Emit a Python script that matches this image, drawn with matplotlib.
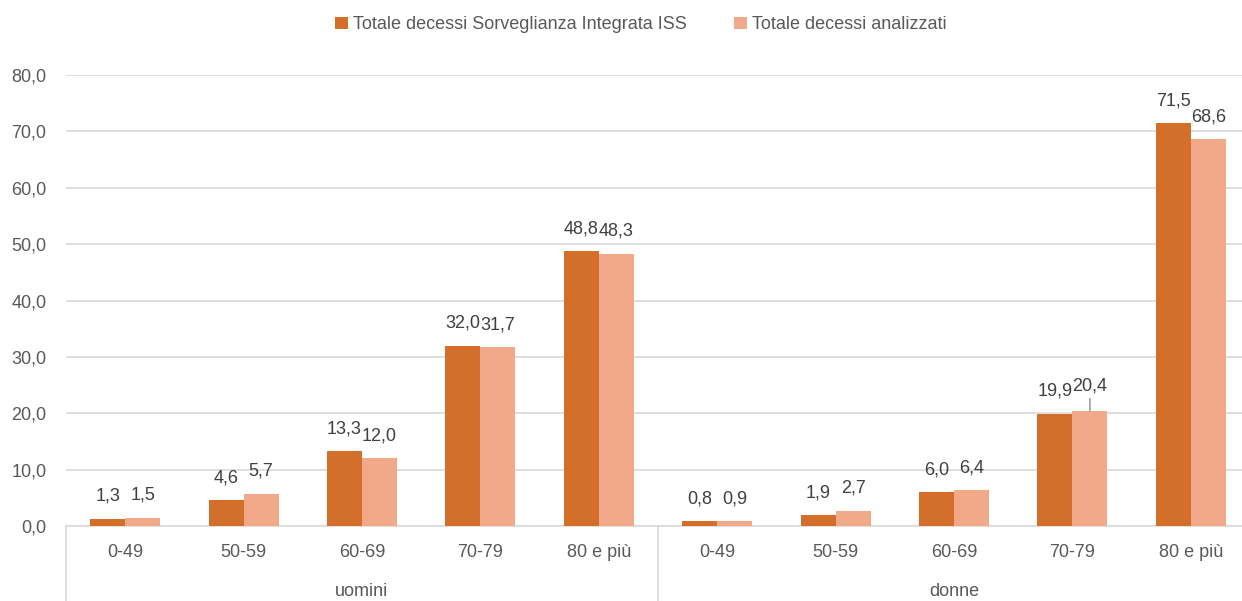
import numpy as np
import matplotlib.pyplot as plt

plt.rcParams['font.family'] = ['Liberation Sans', 'DejaVu Sans']

age_groups = ["0-49", "50-59", "60-69", "70-79", "80 e più"]
sexes = ["uomini", "donne"]
series_names = ["Totale decessi Sorveglianza Integrata ISS", "Totale decessi analizzati"]
iss_values = [1.3, 4.6, 13.3, 32.0, 48.8, 0.8, 1.9, 6.0, 19.9, 71.5]
analyzed_values = [1.5, 5.7, 12.0, 31.7, 48.3, 0.9, 2.7, 6.4, 20.4, 68.6]

dark = "#D36F2B"
light = "#F2A98A"
text_col = "#595959"
grid_col = "#D9D9D9"
fs = 13

fig = plt.figure(figsize=(12.42, 6.01), dpi=100)
ax = fig.add_axes([66 / 1242, 1 - 526 / 601, 1184 / 1242, 451 / 601])

x = np.arange(len(iss_values))
w = 0.296
b1 = ax.bar(x - w / 2, iss_values, w, color=dark, label=series_names[0], zorder=3)
b2 = ax.bar(x + w / 2, analyzed_values, w, color=light, label=series_names[1], zorder=3)

def fmt(v):
    return f"{v:.1f}".replace(".", ",")

for bars, vals in [(b1, iss_values), (b2, analyzed_values)]:
    for rect, v in zip(bars, vals):
        cx = rect.get_x() + rect.get_width() / 2
        if v == 20.4:
            ax.annotate(fmt(v), xy=(cx, v), xytext=(0, 12), textcoords="offset points",
                        ha="center", va="bottom", fontsize=fs, color="#404040",
                        arrowprops=dict(arrowstyle="-", color="#8c8c8c", lw=1,
                                        shrinkA=1, shrinkB=0))
        else:
            ax.annotate(fmt(v), xy=(cx, v), xytext=(0, 10), textcoords="offset points",
                        ha="center", va="bottom", fontsize=fs, color="#404040")

ax.set_xlim(-0.5, len(iss_values) - 0.5)
ax.set_ylim(0, 80)
ax.set_yticks(np.arange(0, 81, 10))
ax.set_yticklabels([fmt(t) for t in np.arange(0, 81, 10)], fontsize=fs, color=text_col)
ax.yaxis.grid(True, color=grid_col, lw=1.2, zorder=0)
ax.tick_params(axis="y", length=0, pad=14)
ax.tick_params(axis="x", length=0, pad=13)
ax.set_xticks(x)
ax.set_xticklabels(age_groups * 2, fontsize=fs, color=text_col)

for s in ["left", "right", "top"]:
    ax.spines[s].set_visible(False)
ax.spines["bottom"].set_color(grid_col)
ax.spines["bottom"].set_linewidth(1.2)

trans = ax.get_xaxis_transform()
for sx in [-0.5, 4.5, 9.5]:
    ax.plot([sx, sx], [0, -0.18], color=grid_col, lw=1.2, transform=trans, clip_on=False)
for i, name in enumerate(sexes):
    ax.text(2 + 5 * i, -0.145, name, transform=trans, ha="center", va="center",
            fontsize=fs, color=text_col)

fig.legend(loc="upper center", bbox_to_anchor=(0.516, 1.0), ncol=2, frameon=False,
           fontsize=fs, handlelength=0.7, handleheight=0.7, columnspacing=2.6,
           handletextpad=0.3, labelcolor=text_col)

fig.savefig("out.png", dpi=100)
